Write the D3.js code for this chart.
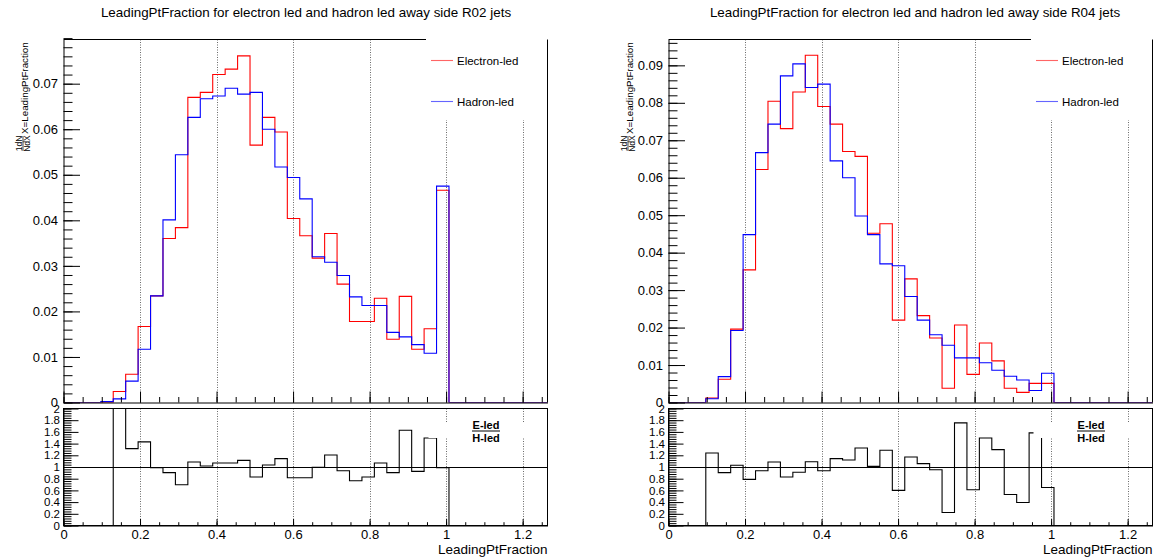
<!DOCTYPE html>
<html><head><meta charset="utf-8">
<script src="https://cdn.jsdelivr.net/npm/d3@7"></script>
<style>
body{margin:0;background:#fff;}
svg{display:block;}
text{font-family:"Liberation Sans",Arial,Helvetica,sans-serif;fill:#000;}
</style>
</head><body>
<svg id="chart" width="1155" height="559"></svg>
<script>
// ---------------- data ----------------
// histograms: 40 bins over [0, 1.3], values listed for bins 0..30 (rest are empty)
const histLow = 0, histHigh = 1.3, histBins = 40;
const axisMax = 1.265;
const titles = [
  "LeadingPtFraction for electron led and hadron led away side R02 jets",
  "LeadingPtFraction for electron led and hadron led away side R04 jets"
];
const seriesNames = ["Electron-led", "Hadron-led"];
const ratioLabel = ["E-led", "H-led"];
const xTitle = "LeadingPtFraction";
const yTitleFrac = ["1dN", "NdX"];
const yTitleVar = "X=LeadingPtFraction";
const xTicks = [0, 0.2, 0.4, 0.6, 0.8, 1, 1.2];
const ratioTicks = [0, 0.2, 0.4, 0.6, 0.8, 1, 1.2, 1.4, 1.6, 1.8, 2];
const topTicksR02 = [0, 0.01, 0.02, 0.03, 0.04, 0.05, 0.06, 0.07];
const topTicksR04 = [0, 0.01, 0.02, 0.03, 0.04, 0.05, 0.06, 0.07, 0.08, 0.09];
const yMaxR02 = 0.0797;
const yMaxR04 = 0.0969;

const electronR02 = [0, 0, 0, 0, 0.0024, 0.0062, 0.0167, 0.0234, 0.0360, 0.0384, 0.0670, 0.0681, 0.0720, 0.0732, 0.0761, 0.0565, 0.0626, 0.0594, 0.0404, 0.0366, 0.0317, 0.0371, 0.0260, 0.0178, 0.0178, 0.0229, 0.0139, 0.0233, 0.0117, 0.0162, 0.0466];
const hadronR02   = [0, 0, 0, 0.0002, 0.0008, 0.0047, 0.0117, 0.0234, 0.0401, 0.0544, 0.0626, 0.0667, 0.0673, 0.0690, 0.0677, 0.0681, 0.0600, 0.0517, 0.0494, 0.0447, 0.0320, 0.0308, 0.0279, 0.0232, 0.0213, 0.0213, 0.0154, 0.0144, 0.0127, 0.0108, 0.0475];
const ratioR02    = [0, 0, 0, 0, 3.0, 1.314, 1.43, 0.989, 0.903, 0.697, 1.086, 1.017, 1.069, 1.069, 1.114, 0.829, 1.034, 1.143, 0.817, 0.817, 0.994, 1.206, 0.937, 0.766, 0.829, 1.069, 0.903, 1.629, 0.926, 1.497, 0.989];

const electronR04 = [0, 0, 0, 0.0012, 0.0062, 0.0196, 0.0354, 0.0622, 0.0804, 0.0731, 0.0829, 0.0927, 0.0790, 0.0743, 0.0670, 0.0657, 0.0452, 0.0477, 0.0220, 0.0330, 0.0232, 0.0172, 0.0038, 0.0207, 0.0075, 0.0159, 0.0111, 0.0038, 0.0027, 0.0051, 0.0051];
const hadronR04   = [0, 0, 0, 0.0010, 0.0069, 0.0192, 0.0448, 0.0667, 0.0743, 0.0872, 0.0904, 0.0841, 0.0850, 0.0645, 0.0600, 0.0498, 0.0448, 0.0370, 0.0365, 0.0283, 0.0220, 0.0181, 0.0153, 0.0119, 0.0119, 0.0106, 0.0086, 0.0070, 0.0060, 0.0032, 0.0078];
const ratioR04    = [0, 0, 0, 1.24, 0.903, 1.03, 0.789, 0.937, 1.086, 0.829, 0.909, 1.091, 0.937, 1.143, 1.12, 1.326, 1.011, 1.286, 0.6, 1.171, 1.057, 0.954, 0.223, 1.754, 0.611, 1.497, 1.297, 0.531, 0.394, 1.583, 0.65];

// ---------------- layout ----------------
const L = {frameL: 63.5, frameR: 547.5, topT: 39.5, topB: 402.5, ratT: 408.5, ratB: 525.5,
           legendL: 426, gridTopCut: 120, ratBoxT: 423, ratBoxB: 438};
const panels = [
  {dx: 0,   title: titles[0], e: electronR02, h: hadronR02, r: ratioR02, yMax: yMaxR02, ticks: topTicksR02, titleX: 306},
  {dx: 605, title: titles[1], e: electronR04, h: hadronR04, r: ratioR04, yMax: yMaxR04, ticks: topTicksR04, titleX: 310}
];
const colors = {e: "#ff0000", h: "#0000ff", r: "#000000"};

const svg = d3.select("#chart");
const binW = (histHigh - histLow) / histBins;

function stepPoints(vals) {
  const pts = [[histLow, 0]];
  vals.forEach((v, i) => {
    pts.push([histLow + i * binW, v]);
    pts.push([histLow + (i + 1) * binW, v]);
  });
  pts.push([histLow + vals.length * binW, 0]);
  pts.push([axisMax, 0]);
  return pts;
}

function minorRange(a, b, step) {
  const out = [];
  const n = Math.round((b - a) / step);
  for (let i = 0; i <= n; i++) out.push(+(a + i * step).toFixed(6));
  return out;
}

panels.forEach((p, pi) => {
  const g = svg.append("g").attr("transform", `translate(${p.dx},0)`);
  const x = d3.scaleLinear().domain([0, axisMax]).range([L.frameL, L.frameR]);
  const y = d3.scaleLinear().domain([0, p.yMax]).range([L.topB, L.topT]);
  const yr = d3.scaleLinear().domain([0, 2]).range([L.ratB, L.ratT]);

  // clip paths
  g.append("clipPath").attr("id", "ct" + pi).append("rect")
    .attr("x", L.frameL).attr("y", L.topT).attr("width", L.frameR - L.frameL).attr("height", L.topB - L.topT);
  g.append("clipPath").attr("id", "cr" + pi).append("rect")
    .attr("x", L.frameL).attr("y", L.ratT).attr("width", L.frameR - L.frameL).attr("height", L.ratB - L.ratT);

  // title
  g.append("text").attr("x", p.titleX).attr("y", 17).attr("text-anchor", "middle")
    .attr("font-size", 13.4).text(p.title);

  // grid lines
  const gridX = xTicks.filter(d => d > 0);
  gridX.forEach(d => {
    const xx = Math.round(x(d)) + 0.5;
    g.append("line").attr("x1", xx).attr("x2", xx).attr("y1", L.topT).attr("y2", L.topB)
      .attr("stroke", "#444").attr("stroke-width", 0.8).attr("stroke-dasharray", "1,1.5");
    g.append("line").attr("x1", xx).attr("x2", xx).attr("y1", L.ratT).attr("y2", L.ratB)
      .attr("stroke", "#444").attr("stroke-width", 0.8).attr("stroke-dasharray", "1,1.5");
  });

  // legend boxes (white, borderless) covering the grid
  g.append("rect").attr("x", L.legendL).attr("y", 30).attr("width", L.frameR - L.legendL).attr("height", L.gridTopCut - 30).attr("fill", "#fff");
  g.append("rect").attr("x", L.legendL - 1.5).attr("y", L.ratBoxT).attr("width", L.frameR - L.legendL + 1.5).attr("height", L.ratBoxB - L.ratBoxT).attr("fill", "#fff");

  // histograms
  const lineTop = d3.line().x(d => x(d[0])).y(d => y(d[1]));
  const lineRat = d3.line().x(d => x(d[0])).y(d => yr(d[1]));
  g.append("path").attr("d", lineTop(stepPoints(p.e))).attr("fill", "none")
    .attr("stroke", colors.e).attr("stroke-width", 1.1).attr("clip-path", `url(#ct${pi})`);
  g.append("path").attr("d", lineTop(stepPoints(p.h))).attr("fill", "none")
    .attr("stroke", colors.h).attr("stroke-width", 1.1).attr("clip-path", `url(#ct${pi})`);

  // ratio
  g.append("path").attr("d", lineRat(stepPoints(p.r))).attr("fill", "none")
    .attr("stroke", colors.r).attr("stroke-width", 1.1).attr("clip-path", `url(#cr${pi})`);
  // the ratio legend box hides what lies under it
  g.append("rect").attr("x", L.legendL + 2.5).attr("y", L.ratBoxT).attr("width", L.frameR - L.legendL - 3).attr("height", L.ratBoxB - L.ratBoxT).attr("fill", "#fff");

  // unit line
  g.append("line").attr("x1", L.frameL).attr("x2", L.frameR).attr("y1", Math.round(yr(1)) + 0.5).attr("y2", Math.round(yr(1)) + 0.5)
    .attr("stroke", "#000").attr("stroke-width", 1);

  // frames
  const fr = g.append("g").attr("stroke", "#000").attr("stroke-width", 1).attr("fill", "none");
  fr.append("line").attr("x1", L.frameL).attr("x2", L.legendL).attr("y1", L.topT).attr("y2", L.topT);
  fr.append("line").attr("x1", L.frameR).attr("x2", L.frameR).attr("y1", L.topT).attr("y2", L.topB);
  fr.append("rect").attr("x", L.frameL).attr("y", L.ratT).attr("width", L.frameR - L.frameL).attr("height", L.ratB - L.ratT);

  // axes helpers
  const axFont = (sel, fs) => sel.selectAll("text").attr("font-size", fs).attr("font-family", '"Liberation Sans",Arial,sans-serif').attr("fill", "#000");
  const axStroke = sel => { sel.selectAll("line").attr("stroke", "#000"); sel.select(".domain").attr("stroke", "#000"); };

  // axes: top panel
  const ayT = g.append("g").attr("transform", `translate(${L.frameL},0)`)
    .call(d3.axisLeft(y).tickValues(p.ticks).tickSizeInner(-16.5).tickSizeOuter(0).tickPadding(5.5).tickFormat(d3.format("~g")));
  axFont(ayT, 13); axStroke(ayT);
  const ayTm = g.append("g").attr("transform", `translate(${L.frameL},0)`)
    .call(d3.axisLeft(y).tickValues(minorRange(0, p.yMax - 0.0005, 0.002)).tickSizeInner(-9).tickSizeOuter(0).tickFormat(""));
  axStroke(ayTm); ayTm.select(".domain").remove();

  const axT = g.append("g").attr("transform", `translate(0,${L.topB})`)
    .call(d3.axisBottom(x).tickValues(xTicks).tickSizeInner(-11).tickSizeOuter(0).tickFormat(""));
  axStroke(axT);
  const axTm = g.append("g").attr("transform", `translate(0,${L.topB})`)
    .call(d3.axisBottom(x).tickValues(minorRange(0, 1.25, 0.05)).tickSizeInner(-5.5).tickSizeOuter(0).tickFormat(""));
  axStroke(axTm); axTm.select(".domain").remove();

  // axes: ratio panel
  const ayR = g.append("g").attr("transform", `translate(${L.frameL},0)`)
    .call(d3.axisLeft(yr).tickValues(ratioTicks).tickSizeInner(-15).tickSizeOuter(0).tickPadding(3.5).tickFormat(d3.format("~g")));
  axFont(ayR, 11.5); axStroke(ayR);
  const ayRm = g.append("g").attr("transform", `translate(${L.frameL},0)`)
    .call(d3.axisLeft(yr).tickValues(minorRange(0, 2, 0.04)).tickSizeInner(-8).tickSizeOuter(0).tickFormat(""));
  axStroke(ayRm); ayRm.select(".domain").remove();

  const axR = g.append("g").attr("transform", `translate(0,${L.ratB})`)
    .call(d3.axisBottom(x).tickValues(xTicks).tickSizeInner(-6.5).tickSizeOuter(0).tickPadding(4.5).tickFormat(d3.format("~g")));
  axFont(axR, 13); axStroke(axR);
  const axRm = g.append("g").attr("transform", `translate(0,${L.ratB})`)
    .call(d3.axisBottom(x).tickValues(minorRange(0, 1.25, 0.05)).tickSizeInner(-3.3).tickSizeOuter(0).tickFormat(""));
  axStroke(axRm); axRm.select(".domain").remove();

  // x title
  g.append("text").attr("x", L.frameR).attr("y", 554).attr("text-anchor", "end").attr("font-size", 13.5).text(xTitle);

  // y title (rotated)
  const yt = g.append("g").attr("transform", "translate(0,151) rotate(-90)");
  yt.append("text").attr("x", 7.5).attr("y", 21.5).attr("text-anchor", "middle").attr("font-size", 8.5).text(yTitleFrac[0]);
  yt.append("line").attr("x1", 0).attr("x2", 15).attr("y1", 23).attr("y2", 23).attr("stroke", "#000").attr("stroke-width", 0.7);
  yt.append("text").attr("x", 7.5).attr("y", 29.8).attr("text-anchor", "middle").attr("font-size", 8.5).text(yTitleFrac[1]);
  yt.append("text").attr("x", 17).attr("y", 27.5).attr("font-size", 9.8).text(yTitleVar);

  // legend
  const leg = g.append("g");
  [[p.e, colors.e, 60], [p.h, colors.h, 101]].forEach((s, k) => {
    leg.append("line").attr("x1", 431).attr("x2", 453).attr("y1", s[2] + 0.5).attr("y2", s[2] + 0.5)
      .attr("stroke", s[1]).attr("stroke-width", 1.1).attr("opacity", 0.6);
    leg.append("text").attr("x", 457).attr("y", s[2] + 4.5).attr("font-size", 11.5).text(seriesNames[k]);
  });

  // ratio legend
  g.append("text").attr("x", 486).attr("y", 428.5).attr("text-anchor", "middle").attr("font-size", 11).attr("font-weight", "bold").text(ratioLabel[0]);
  g.append("line").attr("x1", 472).attr("x2", 500).attr("y1", 431).attr("y2", 431).attr("stroke", "#000").attr("stroke-width", 1);
  g.append("text").attr("x", 486).attr("y", 442).attr("text-anchor", "middle").attr("font-size", 11).attr("font-weight", "bold").text(ratioLabel[1]);
});
</script>
</body></html>
